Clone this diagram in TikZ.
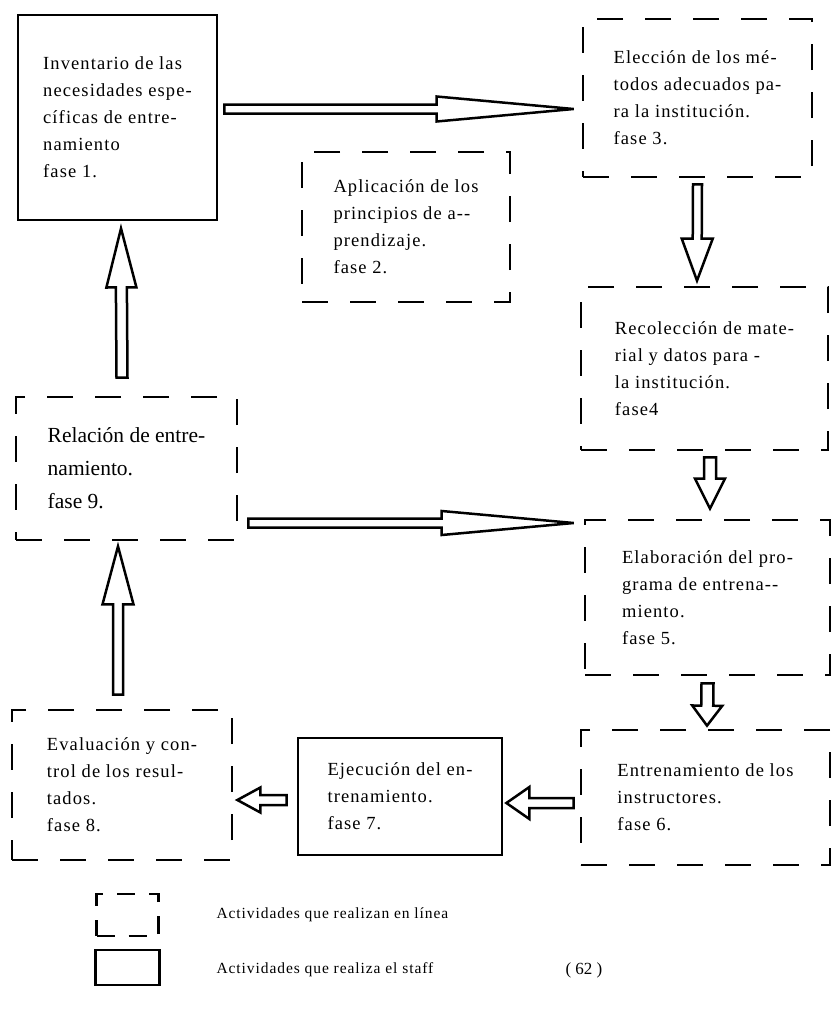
\documentclass[tikz,border=0pt]{standalone}
\usepackage{fontspec}
\setmainfont{Liberation Serif}
\newfontfamily\boxfont[LetterSpace=6]{Liberation Serif}
\usetikzlibrary{calc}
\newcommand{\boxtext}{\boxfont\fontsize{18.5}{27}\selectfont}
\newcommand{\legtext}{\boxfont\fontsize{15.5}{18}\selectfont}
% hollow block arrow: from, to, shaft half width, head length, head half width
\newcommand{\hollowarrow}[5]{%
  \draw[hollow] let \p1=(#1), \p2=(#2),
    \n1={atan2(\y2-\y1,\x2-\x1)}, \n2={veclen(\x2-\x1,\y2-\y1)} in
    [shift={(\p1)},rotate=\n1]
    (0,-#3) -- ({\n2-#4},-#3) -- ({\n2-#4},-#5) -- (\n2,0)
    -- ({\n2-#4},#5) -- ({\n2-#4},#3) -- (0,#3) -- cycle;}

\begin{document}
\begin{tikzpicture}[x=1pt,y=-1pt,
  staff/.style={draw,line width=2.8pt,align=left,font=\boxtext},
  linea/.style={draw,line width=2.7pt,dash pattern=on 26pt off 22pt,
    align=left,font=\boxtext},
  hollow/.style={draw,line width=2.5pt,fill=white,line join=miter}]
\useasboundingbox (0,0) rectangle (832,1009);
% phases
\node[staff,minimum width=199pt,minimum height=205pt] (inv) at (117.5,117.5)
  {Inventario de las\\necesidades espe-\\cíficas de entre-\\namiento\\fase 1.};
\node[linea,minimum width=208pt,minimum height=150pt] (apl) at (406,227)
  {Aplicación de los\\principios de a-{}-\\prendizaje.\\fase 2.\hspace*{16pt}};
\node[linea,minimum width=229pt,minimum height=158pt] (elec) at (697.5,98)
  {Elección de los mé-\\todos adecuados pa-\\ra la institución.\\fase 3.};
\node[linea,minimum width=247pt,minimum height=163pt] (reco) at (704.5,368.5)
  {Recolección de mate-\\rial y datos para -\\la institución.\\fase4};
\node[linea,minimum width=245pt,minimum height=155pt] (elab) at (707.5,597.5)
  {Elaboración del pro-\\grama de entrena-{}-\\miento.\\fase 5.};
\node[linea,minimum width=249pt,minimum height=135pt] (entr) at (705.5,797.5)
  {Entrenamiento de los\\instructores.\\fase 6.};
\node[staff,minimum width=204pt,minimum height=117pt] (ejec) at (400,796.5)
  {Ejecución del en-\\trenamiento.\\fase 7.};
\node[linea,minimum width=220pt,minimum height=150pt] (eval) at (122,785)
  {Evaluación y con-\\trol de los resul-\\tados.\\fase 8.};
\node[linea,minimum width=221pt,minimum height=143pt,
  font=\fontsize{21.5}{33}\selectfont] (rela) at (126.5,468.5)
  {Relación de entre-\\namiento.\\fase 9.};
% arrows
\hollowarrow{[xshift=6pt,yshift=8.5pt]inv.east}{[xshift=-8pt,yshift=-11pt]elec.west}{4.5}{137}{12.5}
\hollowarrow{[yshift=-6pt]elec.south}{[xshift=-7.5pt,yshift=5pt]reco.north}{4.5}{42}{15.5}
\hollowarrow{[xshift=5.5pt,yshift=-6pt]reco.south}{[xshift=2.5pt,yshift=10pt]elab.north}{6}{30}{15}
\hollowarrow{[yshift=-7pt]elab.south}{[xshift=1.5pt,yshift=3pt]entr.north}{6}{20}{15}
\hollowarrow{[xshift=-6pt,yshift=-5.5pt]entr.west}{[xshift=3pt,yshift=-6.5pt]ejec.east}{5}{23}{16}
\hollowarrow{[xshift=-10pt,yshift=-3.5pt]ejec.west}{[xshift=4pt,yshift=-15pt]eval.east}{5}{23}{12.5}
\hollowarrow{[xshift=-4pt,yshift=14pt]eval.north}{[xshift=-8.5pt,yshift=-5pt]rela.south}{5}{58}{15.5}
\hollowarrow{[xshift=-4.5pt,yshift=18pt]rela.north}{[xshift=3.5pt,yshift=-7pt]inv.south}{5.5}{59}{15}
\hollowarrow{[xshift=10pt,yshift=-54.5pt]rela.east}{[xshift=-10pt,yshift=74.5pt]elab.west}{4.5}{132}{12}
% legend
\node[draw,line width=2.4pt,dash pattern=on 18pt off 14pt,
  minimum width=62pt,minimum height=42pt] (keyline) at (127.5,915) {};
\node[draw,line width=2.2pt,minimum width=64pt,minimum height=35pt]
  (keystaff) at (127.5,967.5) {};
\node[anchor=west,font=\legtext] (txtline) at (213,915)
  {Actividades que realizan en línea};
\node[anchor=west,font=\legtext] (txtstaff) at (213,970)
  {Actividades que realiza el staff};
\node[anchor=west,font=\fontsize{17}{20}\selectfont] (page) at (562,970) {( 62 )};
\end{tikzpicture}
\end{document}
